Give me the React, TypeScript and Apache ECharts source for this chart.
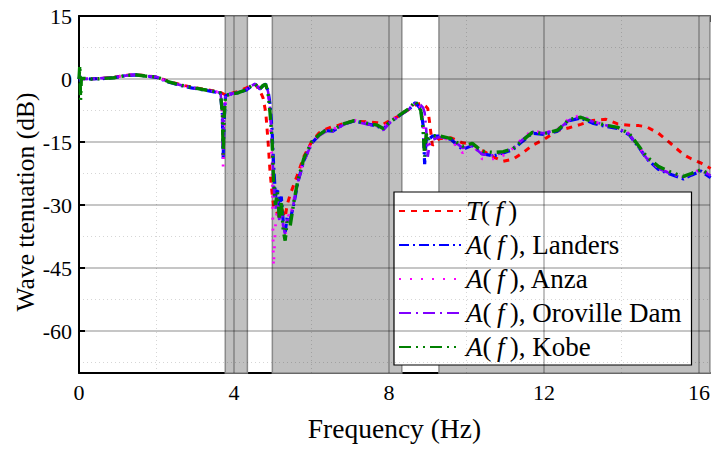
import React, { useEffect, useRef } from "react";
import * as echarts from "echarts";

// Frequency samples (Hz) shared by every response curve
const FREQ = [
  0, 0.02, 0.04, 0.06, 0.3, 0.6, 0.9, 1.2, 1.45, 1.7, 2.0, 2.3, 2.6, 2.9, 3.2, 3.45, 3.65, 3.7, 3.72, 3.74,
  3.78, 3.9, 4.1, 4.3, 4.45, 4.55, 4.67, 4.75, 4.82, 4.88, 4.93, 4.98, 5.02, 5.07, 5.12, 5.17, 5.22, 5.27,
  5.32, 5.37, 5.45, 5.55, 5.65, 5.8, 6.0, 6.2, 6.35, 6.55, 6.7, 6.85, 7.1, 7.4, 7.7, 7.85, 8.0, 8.3, 8.55,
  8.68, 8.82, 8.88, 8.92, 8.96, 9.0, 9.05, 9.12, 9.3, 9.6, 9.9, 10.15, 10.4, 10.7, 10.95, 11.2, 11.45, 11.7,
  12.0, 12.35, 12.65, 12.95, 13.25, 13.6, 13.9, 14.2, 14.45, 14.65, 14.95, 15.3, 15.6, 15.8, 16.05, 16.3,
];

// Transmissibility T(f), dB
const T_F = [
  0, 0.1, 0.0, 0.1, 0.0, 0.2, 0.4, 0.9, 1.0, 0.8, 0.5, -0.5, -1.3, -1.9, -2.4, -2.8, -3.2, -3.4, -3.5, -3.6,
  -3.7, -3.5, -3.0, -2.2, -1.5, -1.3, -2.8, -4.5, -8, -15, -22, -27, -30, -31, -32, -33, -30, -32,
  -33, -30, -27.5, -25, -22.5, -18.5, -15, -12.8, -12.0, -11.3, -11.0, -10.5, -10.0, -10.2, -10.4, -10.8, -10.0, -8.6, -7.0,
  -6.2, -5.8, -6.0, -6.3, -6.6, -7.0, -10.5, -15.8, -14.2, -14.0, -15.2, -15.5, -17.0, -18.6, -19.6, -19.1, -17.6, -15.8,
  -14.4, -12.3, -11.6, -10.8, -9.9, -9.6, -10.7, -11.0, -11.1, -11.4, -12.9, -15.6, -18.0, -19.0, -20.0, -21.3,
];

// Measured attenuation A(f), dB
const LANDERS = [
  0, 0.8, -0.6, 0.1, 0.0, 0.1, 0.3, 0.8, 1.0, 0.7, 0.4, -0.7, -1.5, -2.1, -2.6, -3.0, -3.3, -8.5, -19, -11,
  -4.0, -3.6, -3.3, -2.7, -1.7, -1.2, -2.3, -1.6, -1.2, -2.8, -6, -12, -20, -28, -26, -31, -28, -34,
  -36.5, -33, -33.5, -29.5, -24.5, -19.5, -15.3, -13.4, -12.3, -12.4, -11.5, -10.7, -10.0, -10.6, -11.2, -12.0, -10.5, -8.5, -6.9,
  -5.6, -7.2, -11, -20.3, -14, -14.8, -14.2, -13.6, -13.6, -14.4, -16.8, -15.8, -17.8, -18.3, -17.6, -16.8, -14.8, -12.9,
  -13.2, -12.4, -9.9, -9.3, -10.5, -11.3, -11.8, -13.3, -16.3, -19.0, -21.5, -22.8, -23.8, -22.9, -21.9, -23.5,
];

const ANZA = [
  0, 0.4, -0.3, 0.0, 0.1, 0.2, 0.4, 0.9, 1.1, 0.8, 0.4, -0.6, -1.4, -2.0, -2.5, -2.9, -3.2, -9, -21, -12,
  -4.1, -3.7, -3.2, -2.6, -1.5, -1.1, -2.2, -1.7, -1.4, -3.2, -9, -20, -44.5, -35, -30, -33, -30, -35,
  -37, -32, -33, -28.5, -24, -19.2, -15.2, -13.2, -12.1, -12.0, -11.2, -10.5, -9.8, -10.4, -11.1, -11.7, -10.2, -8.3, -6.7,
  -5.5, -6.8, -9.5, -14, -17.5, -16, -14.6, -14.0, -13.8, -14.6, -17.6, -15.2, -19.0, -19.0, -18.2, -16.5, -14.0, -12.3,
  -12.8, -12.0, -9.4, -8.6, -10.0, -11.0, -11.6, -13.0, -16.2, -18.7, -21.2, -22.6, -23.2, -22.6, -21.4, -22.9,
];

const OROVILLE = [
  0, 0.3, -0.2, 0.1, 0.0, 0.2, 0.4, 0.8, 1.0, 0.7, 0.5, -0.6, -1.4, -2.0, -2.5, -2.9, -3.3, -7, -17, -9,
  -3.9, -3.6, -3.2, -2.6, -1.6, -1.2, -2.5, -1.6, -1.4, -3.0, -7, -15, -25, -31, -28, -34, -30, -35,
  -37, -33.5, -34, -29, -24.5, -19.8, -15.4, -13.5, -12.6, -12.5, -11.6, -10.8, -10.1, -10.7, -11.3, -12.2, -10.6, -8.6, -7.0,
  -5.8, -6.2, -6.8, -8, -12, -18.5, -15.5, -14.5, -13.8, -14.3, -16.4, -15.9, -17.9, -18.2, -17.4, -16.5, -14.4, -12.6,
  -12.9, -12.1, -9.8, -9.0, -10.1, -11.0, -11.6, -13.2, -16.4, -18.9, -21.3, -22.7, -23.3, -22.7, -21.7, -23.0,
];

const KOBE = [
  0, 3.2, -5.0, 0.2, 0.0, 0.1, 0.3, 0.8, 1.0, 0.7, 0.5, -0.6, -1.4, -2.0, -2.5, -2.9, -3.3, -8, -18, -10,
  -4.0, -3.6, -3.3, -2.6, -1.6, -1.2, -2.4, -1.5, -1.3, -3.5, -8, -14, -24, -30, -27, -33, -29, -36,
  -38.5, -34, -35, -29, -24, -19, -15, -13.3, -12.3, -12.2, -11.3, -10.6, -9.9, -10.5, -11.0, -11.8, -10.4, -8.4, -6.8,
  -5.3, -7.5, -12, -18.5, -13, -14.5, -14.0, -13.5, -13.5, -14.2, -16.0, -15.3, -17.2, -17.5, -17.3, -16.6, -14.6, -12.7,
  -13.0, -12.2, -9.6, -9.1, -10.2, -11.0, -11.5, -13.0, -16.0, -18.5, -20.8, -22.3, -23.2, -22.5, -21.6, -22.8,
];

// Shaded frequency bands [start, end] in Hz
const BANDS = [
  [3.775, 4.345],
  [4.99, 8.33],
  [9.29, 16.28],
];

const X_TICKS = [0, 4, 8, 12, 16];
const X_MINOR = [2, 6, 10, 14];
const Y_TICKS = [15, 0, -15, -30, -45, -60];
const Y_MAJOR_GRID = [0, -15, -30, -45, -60];
const Y_MINOR = [7.5, -7.5, -22.5, -37.5, -52.5, -67.5];

const FONT = "Liberation Serif";

const SERIES_DEFS = [
  { name: "T(f)", label: "{i|T}(\u2009{i|f}\u2009)", values: T_F, color: "#ff0000", width: 3, dash: [6, 6] },
  { name: "Landers", label: "{i|A}(\u2009{i|f}\u2009), Landers", values: LANDERS, color: "#0000ff", width: 3.2, dash: [10, 4, 2, 4] },
  { name: "Anza", label: "{i|A}(\u2009{i|f}\u2009), Anza", values: ANZA, color: "#ff00ff", width: 2.8, dash: [2, 9] },
  { name: "Oroville Dam", label: "{i|A}(\u2009{i|f}\u2009), Oroville Dam", values: OROVILLE, color: "#8000ff", width: 2.6, dash: [12, 5, 2, 5] },
  { name: "Kobe", label: "{i|A}(\u2009{i|f}\u2009), Kobe", values: KOBE, color: "#008000", width: 3.4, dash: [12, 5, 2, 5, 2, 5] },
];

const X_MAX = 16.28;

export default function App() {
  const ref = useRef<HTMLDivElement>(null);

  useEffect(() => {
    document.body.style.margin = "0";
    const el = ref.current;
    if (!el) return;
    const chart = echarts.init(el, null, { renderer: "svg" });

    const labelMap: Record<string, string> = {};
    SERIES_DEFS.forEach((d) => (labelMap[d.name] = d.label));

    const dataSeries = SERIES_DEFS.map((d, k) => ({
      name: d.name,
      type: "line",
      data: FREQ.map((f, i) => [f, d.values[i]]),
      showSymbol: false,
      symbol: "none",
      z: 3 + k,
      lineStyle: { color: d.color, width: d.width, type: d.dash, cap: "butt" },
      itemStyle: { color: d.color },
    }));

    const gridLines = [
      ...X_MINOR.map((v) => ({ xAxis: v, lineStyle: { color: "rgba(0,0,0,0.16)", width: 1, type: [1, 3] } })),
      ...Y_MINOR.map((v) => ({ yAxis: v, lineStyle: { color: "rgba(0,0,0,0.16)", width: 1, type: [1, 3] } })),
      ...X_TICKS.filter((v) => v > 0).map((v) => ({ xAxis: v, lineStyle: { color: "rgba(0,0,0,0.3)", width: 1.6, type: "solid" } })),
      ...Y_MAJOR_GRID.map((v) => ({ yAxis: v, lineStyle: { color: "rgba(0,0,0,0.3)", width: 1.6, type: "solid" } })),
    ];

    chart.setOption({
      animation: false,
      textStyle: { fontFamily: FONT },
      grid: { left: 79, right: -3, top: 16, bottom: 76, containLabel: false },
      graphic: [
        {
          type: "text",
          x: 25,
          y: 202,
          rotation: Math.PI / 2,
          style: {
            text: "Wave ttenuation (dB)",
            font: "25.5px Liberation Serif",
            fill: "#000",
            align: "center",
            verticalAlign: "middle",
          },
        },
      ],
      legend: {
        data: SERIES_DEFS.map((d) => d.name),
        orient: "vertical",
        left: 394,
        top: 192,
        padding: [5, 10, 4, 4],
        itemGap: 6,
        itemWidth: 62,
        itemHeight: 14,
        itemStyle: { opacity: 0 },
        backgroundColor: "#ffffff",
        borderColor: "#000000",
        borderWidth: 1.2,
        borderRadius: 0,
        formatter: (name: string) => labelMap[name],
        textStyle: {
          fontFamily: FONT,
          fontSize: 27,
          color: "#000",
          lineHeight: 28,
          rich: {
            i: { fontFamily: FONT, fontSize: 27, fontStyle: "italic", color: "#000", lineHeight: 28 },
          },
        },
      },
      xAxis: [
        {
          type: "value",
          min: 0,
          max: X_MAX,
          interval: 4,
          position: "bottom",
          name: "Frequency (Hz)",
          nameLocation: "middle",
          nameGap: 41,
          nameTextStyle: { fontFamily: FONT, fontSize: 27.5, color: "#000" },
          axisLine: { show: true, onZero: false, lineStyle: { color: "#000", width: 2 } },
          axisTick: { show: true, inside: true, length: 6, lineStyle: { color: "#000", width: 2 } },
          axisLabel: {
            fontFamily: FONT,
            fontSize: 22,
            color: "#000",
            margin: 8,
            showMaxLabel: false,
            formatter: (v: number) => (X_TICKS.includes(v) ? String(v) : ""),
          },
          splitLine: { show: false },
        },
        {
          type: "value",
          min: 0,
          max: X_MAX,
          interval: 4,
          position: "top",
          axisLine: { show: true, onZero: false, lineStyle: { color: "#000", width: 2 } },
          axisTick: { show: true, inside: true, length: 6, lineStyle: { color: "#000", width: 2 } },
          axisLabel: { show: false },
          splitLine: { show: false },
        },
      ],
      yAxis: {
        type: "value",
        min: -70,
        max: 15,
        interval: 5,
        axisLine: { show: true, onZero: false, lineStyle: { color: "#000", width: 2 } },
        axisTick: { show: true, inside: true, length: 6, customValues: Y_TICKS, lineStyle: { color: "#000", width: 2 } },
        axisLabel: {
          fontFamily: FONT,
          fontSize: 22,
          color: "#000",
          margin: 7,
          customValues: Y_TICKS,
          formatter: (v: number) => (Y_TICKS.includes(v) ? String(v) : ""),
        },
        splitLine: { show: false },
      },
      series: [
        {
          name: "bands",
          type: "line",
          data: [],
          silent: true,
          z: 1,
          markArea: {
            silent: true,
            itemStyle: { color: "#c0c0c0", borderColor: "#8a8a8a", borderWidth: 1.5 },
            data: BANDS.map((b) => [{ xAxis: b[0], yAxis: -70 }, { xAxis: b[1], yAxis: 15 }]),
          },
        },
        {
          name: "grid",
          type: "line",
          data: [],
          silent: true,
          z: 2,
          markLine: {
            silent: true,
            symbol: "none",
            label: { show: false },
            data: gridLines,
          },
        },
        ...dataSeries,
      ],
    });

    return () => chart.dispose();
  }, []);

  return <div ref={ref} style={{ width: 713, height: 449 }} />;
}
